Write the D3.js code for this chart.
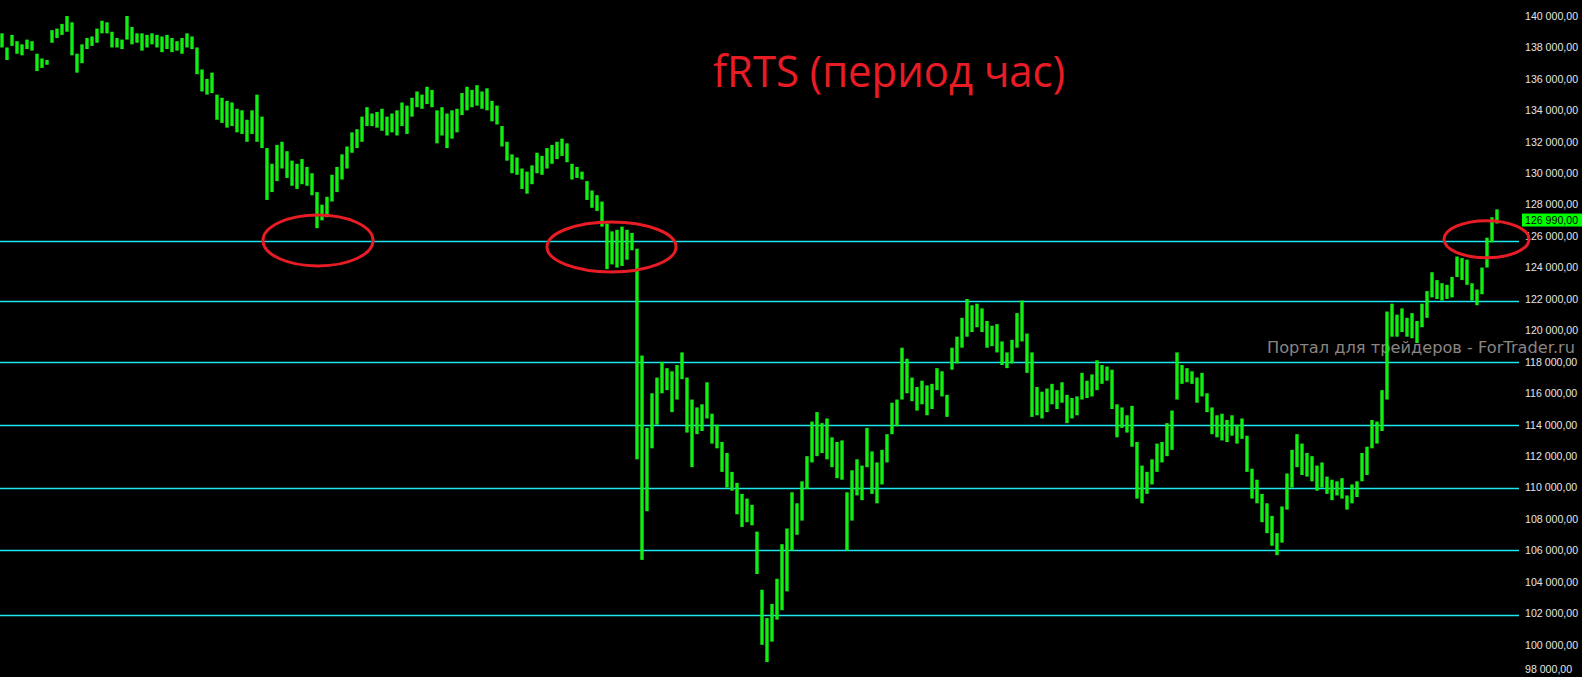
<!DOCTYPE html>
<html>
<head>
<meta charset="utf-8">
<script src="https://cdn.jsdelivr.net/npm/d3@7"></script>
<style>
  html, body { margin: 0; padding: 0; background: #000; overflow: hidden; }
  #chart { width: 1582px; height: 677px; }
</style>
</head>
<body>
<div id="chart"></div>
<script>
// fRTS hourly bars, prices in thousands of points
const highs = [
  138.9, 138.0, 138.8, 138.4, 138.2, 138.5, 138.4, 137.6, 137.3, 137.2,
  139.1, 139.2, 139.5, 140.0, 139.6, 137.6, 138.2, 138.6, 138.7, 139.2,
  139.7, 139.6, 139.0, 138.6, 138.5, 140.0, 139.3, 138.9, 138.9, 138.8,
  138.9, 138.8, 138.7, 138.8, 138.6, 138.4, 138.6, 138.9, 138.7, 138.0,
  136.6, 136.0, 136.4, 135.0, 134.8, 134.6, 134.5, 134.1, 134.0, 133.4,
  134.0, 135.0, 133.6, 131.6, 130.6, 131.8, 132.0, 131.4, 130.8, 130.6,
  130.9, 130.4, 130.0, 128.8, 128.0, 128.5, 129.9, 130.4, 131.2, 131.7,
  132.6, 132.8, 133.6, 134.2, 133.8, 133.9, 134.1, 133.6, 133.8, 134.0,
  134.5, 134.3, 134.8, 135.2, 135.0, 135.5, 135.3, 134.0, 134.2, 133.8,
  134.0, 134.1, 135.1, 135.5, 135.3, 135.6, 135.2, 135.4, 134.6, 134.3,
  133.0, 132.0, 131.2, 131.0, 130.3, 130.1, 130.5, 131.3, 131.1, 131.6,
  131.8, 132.0, 132.2, 131.9, 130.6, 130.4, 130.1, 129.5, 128.9, 128.6,
  128.2, 126.8, 126.3, 126.4, 126.6, 126.4, 126.2, 125.2, 118.4, 113.8,
  116.0, 117.0, 118.0, 117.6, 117.4, 117.8, 118.6, 117.0, 115.6, 115.1,
  115.3, 116.7, 114.7, 114.0, 112.9, 112.2, 111.0, 110.3, 109.6, 109.3,
  108.9, 107.2, 103.5, 101.7, 102.6, 104.2, 106.4, 107.4, 109.7, 109.0,
  110.4, 112.0, 114.2, 114.8, 114.1, 114.4, 113.2, 112.9, 113.0, 109.7,
  111.1, 111.8, 111.4, 113.8, 112.3, 111.6, 112.4, 113.4, 115.4, 115.6,
  118.9, 118.2, 117.0, 116.4, 116.8, 116.5, 116.6, 117.6, 117.4, 115.9,
  118.9, 119.6, 120.8, 122.0, 121.6, 121.7, 121.4, 120.6, 120.3, 120.4,
  119.3, 118.6, 119.4, 121.1, 121.9, 119.8, 118.6, 116.4, 116.1, 116.3,
  116.6, 116.2, 116.7, 115.9, 115.7, 115.8, 117.3, 116.8, 117.2, 118.1,
  117.8, 117.7, 117.5, 115.3, 115.1, 114.6, 115.2, 112.9, 111.4, 111.0,
  111.8, 112.8, 112.9, 114.1, 114.9, 118.6, 117.8, 117.6, 117.4, 117.0,
  117.3, 116.0, 115.1, 114.6, 114.7, 114.3, 114.6, 114.0, 114.4, 113.3,
  111.2, 110.5, 109.6, 109.0, 108.2, 107.1, 108.8, 110.9, 112.4, 113.4,
  112.8, 112.2, 112.0, 111.4, 111.6, 110.7, 110.5, 110.4, 110.6, 109.5,
  110.2, 110.4, 112.2, 112.6, 114.3, 114.2, 116.2, 121.2, 121.7, 121.0,
  121.4, 120.8, 121.1, 120.6, 121.7, 122.5, 123.7, 123.2, 123.0, 122.9,
  123.4, 124.7, 124.6, 124.5, 123.0, 122.6, 124.0, 125.9, 127.2, 127.7
];
const lows = [
  138.0, 137.2, 138.1, 137.6, 137.5, 137.9, 137.8, 136.5, 136.7, 136.9,
  138.3, 138.6, 138.8, 139.0, 137.5, 136.4, 137.0, 137.9, 138.1, 138.3,
  138.9, 138.9, 138.0, 138.0, 137.9, 138.5, 138.2, 138.3, 137.8, 138.0,
  138.2, 138.0, 137.7, 137.9, 137.7, 137.8, 137.6, 138.0, 137.9, 136.3,
  135.2, 135.0, 135.1, 133.4, 133.2, 132.9, 133.0, 132.6, 132.5, 132.0,
  132.5, 132.0, 131.6, 128.3, 128.8, 129.5, 130.3, 129.7, 129.2, 129.0,
  129.3, 129.2, 128.6, 126.5, 127.0, 127.2, 128.2, 128.8, 129.6, 130.3,
  131.3, 131.6, 132.0, 133.0, 133.0, 132.9, 132.7, 132.4, 132.6, 132.4,
  133.0, 132.5, 133.6, 134.2, 134.1, 134.4, 134.2, 131.9, 132.4, 131.6,
  132.2, 132.6, 133.7, 134.0, 134.2, 134.3, 134.1, 134.0, 133.3, 133.1,
  131.7, 130.8, 130.0, 129.9, 129.0, 128.7, 129.3, 130.0, 129.9, 130.3,
  130.6, 130.9, 131.1, 130.7, 129.6, 129.7, 129.6, 128.3, 127.8, 127.6,
  126.6, 123.9, 124.2, 124.0, 124.1, 124.5, 125.1, 111.8, 105.4, 108.5,
  112.5, 114.0, 116.0, 116.2, 114.8, 115.6, 116.9, 113.5, 111.3, 113.4,
  113.6, 114.4, 112.8, 112.5, 111.0, 110.0, 109.8, 108.3, 107.5, 107.8,
  107.6, 104.5, 100.0, 98.9, 100.2, 101.6, 102.2, 103.4, 106.0, 107.0,
  107.9, 109.9, 111.6, 112.0, 112.2, 111.8, 111.3, 110.6, 110.5, 106.0,
  107.9, 109.5, 109.2, 111.3, 109.6, 109.0, 110.2, 111.6, 113.4, 113.9,
  115.6, 116.0, 115.5, 114.9, 115.3, 114.6, 115.0, 116.2, 115.8, 114.5,
  117.5, 117.9, 118.9, 119.6, 119.9, 120.2, 119.9, 118.9, 119.0, 118.6,
  117.8, 117.6, 117.9, 118.9, 119.3, 117.3, 114.5, 114.6, 114.4, 114.8,
  115.3, 115.0, 115.4, 114.1, 114.4, 114.6, 115.6, 115.7, 115.8, 116.2,
  116.6, 116.8, 115.0, 113.2, 113.8, 113.5, 112.6, 109.3, 109.0, 109.6,
  110.2, 111.0, 111.6, 112.0, 112.4, 115.6, 116.6, 116.7, 116.6, 115.4,
  115.8, 114.8, 113.4, 113.2, 113.0, 112.9, 113.3, 112.8, 113.1, 111.0,
  109.3, 109.0, 107.8, 107.1, 106.3, 105.7, 106.5, 108.6, 110.0, 111.3,
  110.8, 110.7, 110.4, 109.8, 110.0, 109.6, 109.2, 109.5, 109.3, 108.6,
  109.0, 109.4, 110.4, 110.8, 112.5, 112.8, 113.6, 115.6, 119.6, 119.6,
  119.9, 119.6, 119.5, 119.2, 120.2, 120.8, 122.1, 122.0, 121.9, 122.0,
  122.1, 123.4, 123.2, 122.9, 121.9, 121.6, 122.3, 124.0, 125.6, 126.8
];

// horizontal support / resistance levels (thousands)
const levels = [125.7, 121.9, 118.0, 114.0, 110.0, 106.0, 101.9];

// axis ticks (thousands)
const tickValues = d3.range(98, 141, 2);

const lastPrice = 126.99;

// red circles: bar index, price, half-width in bars, half-height in price
const marks = [
  { i: 63.2, p: 125.72, ri: 11.0, rp: 1.62 },
  { i: 121.9, p: 125.31, ri: 12.9, rp: 1.59 },
  { i: 296.9, p: 125.8, ri: 8.5, rp: 1.18 }
];

const title = "fRTS (период час)";
const watermark = "Портал для трейдеров - ForTrader.ru";

// ---------------------------------------------------------------------------
const width = 1582;
const height = 677;
const plotRight = 1519;

const svg = d3.select("#chart")
  .append("svg")
  .attr("width", width)
  .attr("height", height)
  .style("background", "#000");

const x = d3.scaleLinear().domain([0, highs.length - 1]).range([2, 1497]);
const y = d3.scaleLinear().domain([97.95, 141.02]).range([height, 0]);

const ru = d3.formatLocale({ decimal: ",", thousands: "\u00a0", grouping: [3], currency: ["", ""] });
const fmt = ru.format(",.2f");

// title
svg.append("text")
  .attr("x", 889)
  .attr("y", 87)
  .attr("text-anchor", "middle")
  .attr("textLength", 352)
  .attr("lengthAdjust", "spacingAndGlyphs")
  .style("font-family", "'Open Sans', 'Noto Sans', sans-serif")
  .style("font-size", "44px")
  .style("fill", "#e81c24")
  .text(title);

// levels
svg.selectAll(".level")
  .data(levels)
  .enter()
  .append("line")
  .attr("class", "level")
  .attr("x1", 0)
  .attr("x2", plotRight)
  .attr("y1", (d) => Math.round(y(d)) + 0.5)
  .attr("y2", (d) => Math.round(y(d)) + 0.5)
  .attr("stroke", "#1ee6ee")
  .attr("stroke-width", 1.3);

// watermark (sits between the 120 000 and 118 000 labels, as in the original)
svg.append("text")
  .attr("x", 1267)
  .attr("y", 353)
  .attr("textLength", 308)
  .attr("lengthAdjust", "spacingAndGlyphs")
  .style("font-family", "'DejaVu Sans', sans-serif")
  .style("font-size", "15px")
  .style("fill", "#8a8482")
  .text(watermark);

// bars
svg.selectAll(".bar")
  .data(highs)
  .enter()
  .append("line")
  .attr("class", "bar")
  .attr("x1", (d, i) => x(i))
  .attr("x2", (d, i) => x(i))
  .attr("y1", (d) => y(d))
  .attr("y2", (d, i) => y(lows[i]))
  .attr("stroke", "#12ee12")
  .attr("stroke-width", 3.4);

// right price axis
const axis = svg.append("g").attr("class", "price-axis");
axis.selectAll("text")
  .data(tickValues)
  .enter()
  .append("text")
  .attr("x", 1525)
  .attr("y", (d) => Math.min(y(d), 669))
  .attr("dy", "0.36em")
  .style("font-family", "'Liberation Sans', Arial, sans-serif")
  .style("font-size", "10.6px")
  .style("fill", "#e4e4e4")
  .text((d) => fmt(d * 1000));

// current price tag
const tagY = y(lastPrice);
svg.append("rect")
  .attr("x", 1522)
  .attr("y", tagY - 7)
  .attr("width", 60)
  .attr("height", 13)
  .attr("fill", "#00ff00");
svg.append("text")
  .attr("x", 1525)
  .attr("y", tagY)
  .attr("dy", "0.36em")
  .style("font-family", "'Liberation Sans', Arial, sans-serif")
  .style("font-size", "10.6px")
  .style("fill", "#000")
  .text(fmt(lastPrice * 1000));

// red ellipses
svg.selectAll(".mark")
  .data(marks)
  .enter()
  .append("ellipse")
  .attr("class", "mark")
  .attr("cx", (d) => x(d.i))
  .attr("cy", (d) => y(d.p))
  .attr("rx", (d) => x(d.ri) - x(0))
  .attr("ry", (d) => y(d.p - d.rp) - y(d.p))
  .attr("fill", "none")
  .attr("stroke", "#e81c24")
  .attr("stroke-width", 3);
</script>
</body>
</html>
